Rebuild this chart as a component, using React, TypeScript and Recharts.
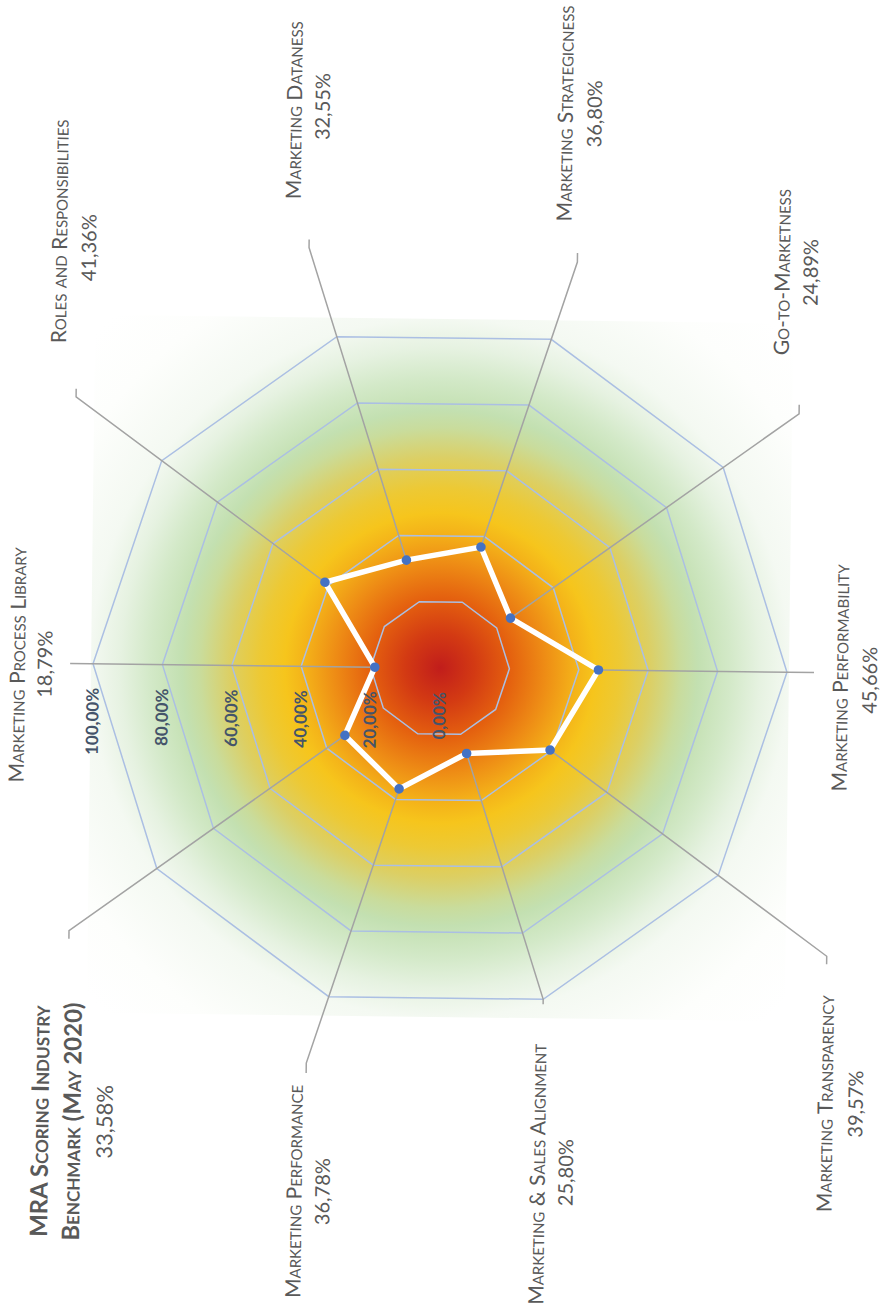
import { RadarChart, Radar, PolarGrid, PolarAngleAxis, PolarRadiusAxis } from 'recharts'

const CATEGORIES = [
  'Marketing Process Library',
  'Roles and Responsibilities',
  'Marketing Dataness',
  'Marketing Strategicness',
  'Go-to-Marketness',
  'Marketing Performability',
  'Marketing Transparency',
  'Marketing & Sales Alignment',
  'Marketing Performance',
  'MRA Scoring Industry\nBenchmark (May 2020)',
]
const SCORES = [18.79, 41.36, 32.55, 36.8, 24.89, 45.66, 39.57, 25.8, 36.78, 33.58]
const RADIUS_TICKS = [0, 20, 40, 60, 80, 100]

// chart is drawn landscape, then turned a quarter to the left
const W = 1316
const H = 900
const CX = 648
const CY = 440
const R = 347
const FONT = 'Lato, "Open Sans", sans-serif'

// leader lines: reach in outer radii, end hook, label anchors (landscape frame)
const LEADERS = [
  { reach: 1.066, hook: 0, x: 646, y: 25, vx: 647, vy: 52 },
  { reach: 1.308, hook: 8, x: 1080, y: 62, vx: 1064, vy: 91 },
  { reach: 1.269, hook: 8, x: 1204, y: 295, vx: 1208, vy: 323 },
  { reach: 1.235, hook: 9, x: 1204, y: 566, vx: 1204, vy: 595 },
  { reach: 1.268, hook: 9, x: 1048, y: 785, vx: 1048, vy: 813 },
  { reach: 1.078, hook: 0, x: 643, y: 848, vx: 641, vy: 877 },
  { reach: 1.39, hook: -8, x: 217, y: 838, vx: 217, vy: 868 },
  { reach: 1.0, hook: -5, x: 143, y: 551, vx: 145, vy: 579 },
  { reach: 1.202, hook: -10, x: 123, y: 308, vx: 123, vy: 336 },
  { reach: 1.31, hook: -8, x: 190, y: 54, vx: 190, vy: 118 },
]

const data = CATEGORIES.map((name, i) => ({ name, value: SCORES[i] }))

const pct = (v: number) => `${v.toFixed(2).replace('.', ',')}%`

function CategoryLabel(props: any) {
  const { payload, index } = props
  const s = LEADERS[index]
  const lines = String(payload.value).split('\n')
  const big = lines.length > 1
  return (
    <g>
      <text
        textAnchor="middle"
        fill="#595959"
        fontFamily={FONT}
        fontSize={big ? 24 : 21}
        fontWeight={big ? 700 : 400}
        style={{ fontVariant: 'small-caps' }}
      >
        {lines.map((t, i) => (
          <tspan key={i} x={s.x} y={s.y + i * 32}>{t}</tspan>
        ))}
      </text>
      <text x={s.vx} y={s.vy} textAnchor="middle" fill="#595959" fontFamily={FONT} fontSize={big ? 22 : 20}>
        {pct(SCORES[index])}
      </text>
    </g>
  )
}

// point marker plus its leader line out to the label
function PointWithLeader(props: any) {
  const { cx, cy, index } = props
  const s = LEADERS[index]
  const a = Math.atan2(cy - CY, cx - CX)
  const ex = CX + Math.cos(a) * R * s.reach
  const ey = CY + Math.sin(a) * R * s.reach
  return (
    <g key={`pt-${index}`}>
      <path d={`M${cx},${cy}L${ex},${ey}h${s.hook}`} stroke="#a3a3a3" strokeWidth={1.5} fill="none" />
      <circle cx={cx} cy={cy} r={4.8} fill="#4472c4" />
    </g>
  )
}

function RadiusTick(props: any) {
  const { payload } = props
  return (
    <text
      x={CX - 24}
      y={CY - payload.coordinate}
      dy="0.35em"
      textAnchor="end"
      fill="#44546a"
      fontFamily={FONT}
      fontSize={17}
      fontWeight={700}
    >
      {pct(payload.value)}
    </text>
  )
}

const GRADIENT = `radial-gradient(circle at 349px 349px,
  #c11d1b 0px, #d33a13 35px, #e4600f 70px, #ee8c15 105px, #f4b219 135px, #f6c51c 155px,
  #edc934 180px, #dccf64 210px, #c9dc9c 240px, #c3e0b1 258px, #d3e9c8 290px,
  #e6f2e1 320px, #f4f9f2 350px, #fdfefc 420px, #ffffff 480px)`

export default function App() {
  return (
    <div style={{ position: 'absolute', left: 0, top: 0, width: 880, height: 1316, overflow: 'hidden', background: '#fff' }}>
      <div
        style={{
          position: 'absolute',
          left: 440 - CX,
          top: 668 - CY,
          width: W,
          height: H,
          transform: 'rotate(-89.3deg)',
          transformOrigin: `${CX}px ${CY}px`,
        }}
      >
        <div style={{ position: 'absolute', left: CX - 349, top: CY - 349, width: 698, height: 698, background: GRADIENT }} />
        <div style={{ position: 'absolute', left: 0, top: 0 }}>
          <RadarChart width={W} height={H} cx={CX} cy={CY} outerRadius={R} data={data} startAngle={90} endAngle={-270} margin={{ top: 0, right: 0, bottom: 0, left: 0 }}>
            <PolarGrid gridType="polygon" radialLines={false} stroke="#abbfe3" strokeWidth={1.5} />
            <PolarAngleAxis dataKey="name" tick={CategoryLabel} tickLine={false} axisLine={false} />
            <Radar
              dataKey="value"
              stroke="#ffffff"
              strokeWidth={5.5}
              fill="none"
              fillOpacity={0}
              dot={PointWithLeader}
              isAnimationActive={false}
            />
            <PolarRadiusAxis angle={90} domain={[0, 100]} ticks={RADIUS_TICKS} tickCount={6} tick={RadiusTick} axisLine={false} tickLine={false} />
          </RadarChart>
        </div>
      </div>
    </div>
  )
}
